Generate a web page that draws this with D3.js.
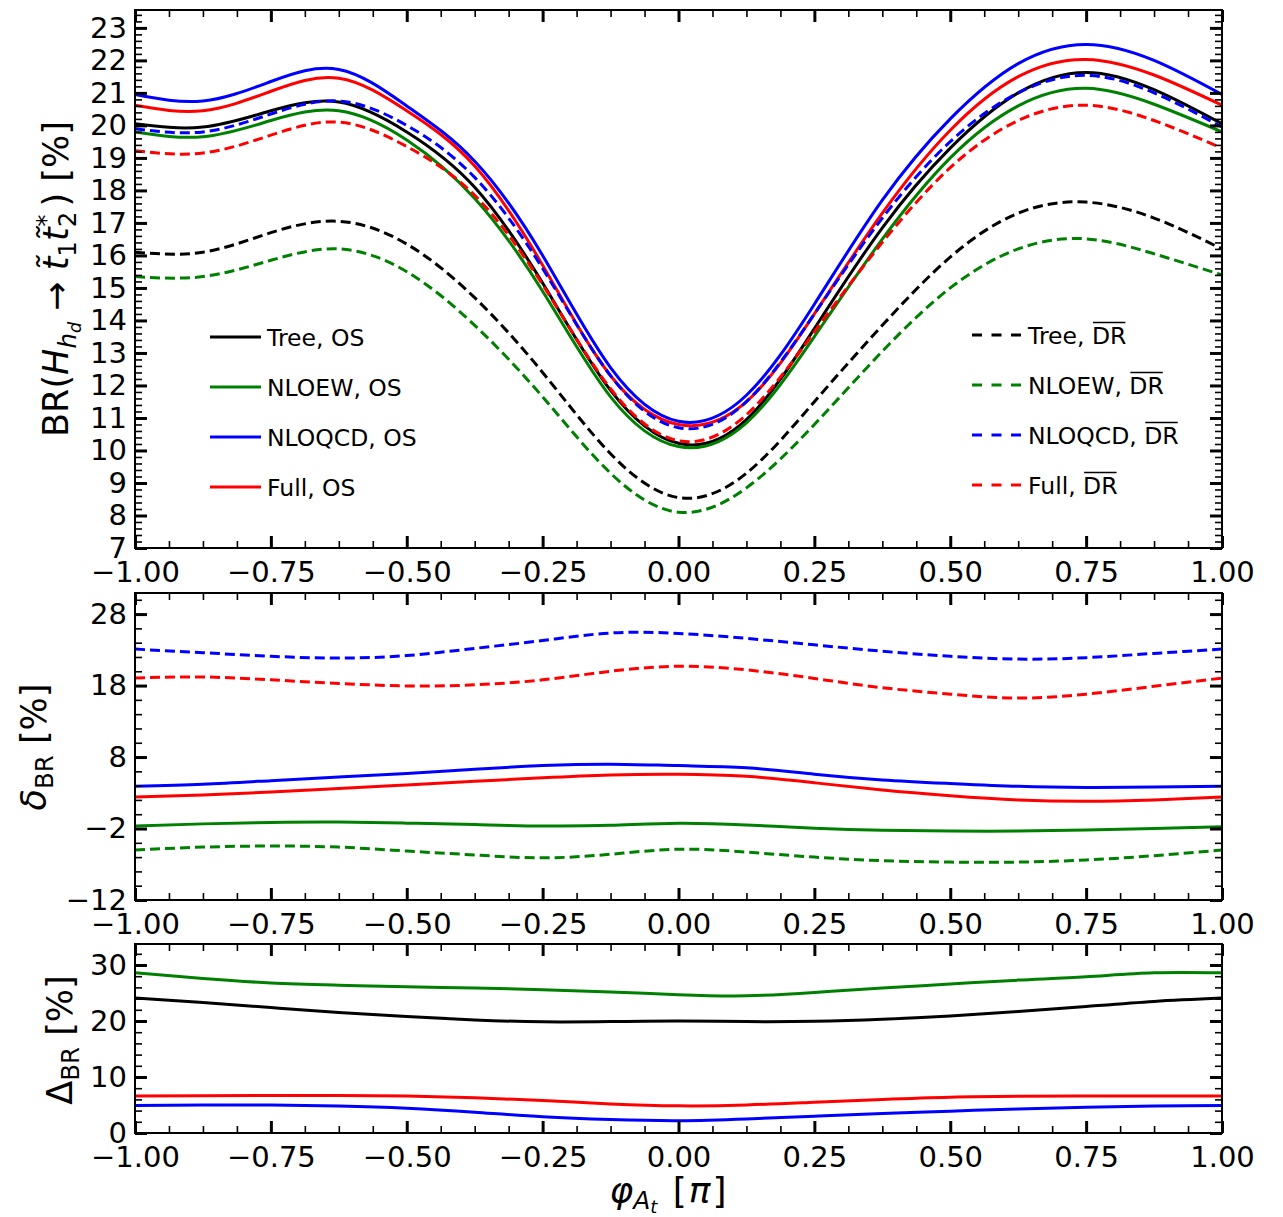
<!DOCTYPE html>
<html>
<head>
<meta charset="utf-8">
<script src="https://cdn.jsdelivr.net/npm/d3@7"></script>
<style>
body { margin: 0; background: #fff; }
text { font-family: "DejaVu Sans", sans-serif; fill: #000; }
</style>
</head>
<body>
<script>
// phase of A_t in units of pi
const phi = [-1, -0.875, -0.75, -0.625, -0.5, -0.375, -0.25, -0.125, 0, 0.125, 0.25, 0.375, 0.5, 0.625, 0.75, 0.875, 1];

// BR(H_hd -> st1 st2*) [%], OS scheme
const brTreeOS   = [20.05, 19.95, 20.45, 20.72, 19.8, 18.1, 15.15, 11.85, 10.22, 10.95, 13.75, 16.85, 19.3, 21.0, 21.63, 21.1, 20.05];
const brNloewOS  = [19.8, 19.65, 20.15, 20.45, 19.55, 17.75, 14.9, 11.65, 10.12, 10.85, 13.5, 16.5, 19.0, 20.6, 21.14, 20.65, 19.8];
const brNloqcdOS = [20.95, 20.75, 21.35, 21.72, 20.6, 18.9, 16.0, 12.55, 10.9, 11.7, 14.5, 17.7, 20.2, 21.9, 22.49, 22.0, 20.95];
const brFullOS   = [20.62, 20.45, 21.05, 21.45, 20.45, 18.75, 15.7, 12.3, 10.8, 11.5, 14.2, 17.3, 19.85, 21.5, 22.03, 21.55, 20.62];
// DR-bar scheme
const brTreeDR   = [16.1, 16.1, 16.7, 17.05, 16.35, 14.7, 12.4, 9.9, 8.55, 9.3, 11.5, 13.85, 15.95, 17.3, 17.64, 17.15, 16.2];
const brNloewDR  = [15.35, 15.35, 15.85, 16.2, 15.5, 13.85, 11.65, 9.3, 8.1, 8.85, 10.8, 13.05, 15.0, 16.2, 16.51, 16.05, 15.4];
const brNloqcdDR = [19.9, 19.8, 20.35, 20.75, 20.0, 18.4, 15.6, 12.3, 10.7, 11.5, 14.2, 17.15, 19.5, 21.0, 21.54, 21.0, 19.95];
const brFullDR   = [19.22, 19.15, 19.7, 20.1, 19.35, 17.85, 15.1, 11.9, 10.3, 11.1, 13.65, 16.4, 18.7, 20.15, 20.62, 20.15, 19.3];

// delta_BR [%]
const dNloewOS  = [-1.65, -1.35, -1.15, -1.1, -1.25, -1.45, -1.65, -1.55, -1.25, -1.5, -1.95, -2.25, -2.35, -2.35, -2.2, -2.0, -1.75];
const dNloqcdOS = [3.9, 4.2, 4.7, 5.2, 5.7, 6.3, 6.8, 7.0, 6.8, 6.5, 5.6, 4.8, 4.3, 3.9, 3.75, 3.8, 3.9];
const dFullOS   = [2.4, 2.7, 3.1, 3.6, 4.1, 4.6, 5.1, 5.5, 5.6, 5.3, 4.4, 3.4, 2.6, 2.0, 1.8, 2.0, 2.4];
const dNloewDR  = [-5.0, -4.6, -4.45, -4.6, -5.15, -5.7, -6.1, -5.6, -4.9, -5.3, -6.0, -6.5, -6.7, -6.7, -6.4, -5.8, -5.0];
const dNloqcdDR = [23.1, 22.6, 22.1, 21.85, 22.2, 23.2, 24.3, 25.35, 25.3, 24.6, 23.7, 22.8, 22.1, 21.7, 21.9, 22.5, 23.1];
const dFullDR   = [19.05, 19.2, 18.8, 18.3, 17.95, 18.1, 18.8, 20.0, 20.7, 20.2, 19.0, 17.7, 16.8, 16.25, 16.8, 17.9, 19.05];

// Delta_BR [%]
const DTree   = [24.1, 23.3, 22.4, 21.5, 20.8, 20.2, 19.85, 19.9, 20.0, 19.9, 19.95, 20.3, 20.9, 21.7, 22.6, 23.5, 24.1];
const DNloew  = [28.6, 27.6, 26.8, 26.4, 26.1, 25.9, 25.6, 25.2, 24.7, 24.5, 25.1, 25.9, 26.6, 27.3, 27.9, 28.6, 28.6];
const DNloqcd = [4.9, 5.0, 5.0, 4.8, 4.4, 3.7, 2.9, 2.4, 2.2, 2.5, 3.0, 3.5, 3.9, 4.3, 4.6, 4.8, 4.9];
const DFull   = [6.6, 6.65, 6.7, 6.7, 6.6, 6.3, 5.8, 5.2, 4.85, 5.0, 5.5, 6.0, 6.4, 6.55, 6.6, 6.6, 6.6];

const BLACK = '#000000', GREEN = '#008000', BLUE = '#0000ff', RED = '#ff0000';
const DASH = '10,5';

const svg = d3.select('body').append('svg')
	.attr('width', 1283)
	.attr('height', 1217);

const x = d3.scaleLinear().domain([-1, 1]).range([135, 1222]);
const xMajor = d3.range(-4, 5).map(i => i / 4);
const xMinor = d3.range(-16, 17).map(i => i / 16).filter(v => !xMajor.includes(v));

function panel(id, top, bottom, domain, yMajor, yMinor, series) {
	const y = d3.scaleLinear().domain(domain).range([bottom, top]);
	const g = svg.append('g').attr('id', id);

	g.append('clipPath').attr('id', 'clip-' + id)
		.append('rect')
		.attr('x', 135).attr('y', top)
		.attr('width', 1222 - 135).attr('height', bottom - top);

	const line = d3.line()
		.x((d, i) => x(phi[i]))
		.y(d => y(d))
		.curve(d3.curveNatural);

	g.append('g').attr('clip-path', `url(#clip-${id})`)
		.selectAll('path')
		.data(series)
		.enter()
		.append('path')
		.attr('d', s => line(s.values))
		.attr('fill', 'none')
		.attr('stroke', s => s.color)
		.attr('stroke-width', 3)
		.attr('stroke-dasharray', s => s.dashed ? DASH : null);

	const style = (sel, w) => {
		sel.select('.domain').remove();
		sel.selectAll('line').attr('stroke-width', w);
		sel.attr('font-size', 29).attr('font-family', null);
	};

	// major + minor ticks, all pointing inward
	g.append('g').attr('transform', 'translate(135,0)')
		.call(d3.axisLeft(y).tickValues(yMajor).tickSize(-12).tickPadding(8).tickFormat(d3.format('d')))
		.call(s => style(s, 3));
	g.append('g').attr('transform', 'translate(135,0)')
		.call(d3.axisLeft(y).tickValues(yMinor).tickSize(-7).tickFormat(''))
		.call(s => style(s, 1.6));
	g.append('g').attr('transform', 'translate(1222,0)')
		.call(d3.axisRight(y).tickValues(yMajor).tickSize(-12).tickFormat(''))
		.call(s => style(s, 3));
	g.append('g').attr('transform', 'translate(1222,0)')
		.call(d3.axisRight(y).tickValues(yMinor).tickSize(-7).tickFormat(''))
		.call(s => style(s, 1.6));

	g.append('g').attr('transform', `translate(0,${bottom})`)
		.call(d3.axisBottom(x).tickValues(xMajor).tickSize(-12).tickPadding(13).tickFormat(d3.format('.2f')))
		.call(s => style(s, 3));
	g.append('g').attr('transform', `translate(0,${bottom})`)
		.call(d3.axisBottom(x).tickValues(xMinor).tickSize(-7).tickFormat(''))
		.call(s => style(s, 1.6));
	g.append('g').attr('transform', `translate(0,${top})`)
		.call(d3.axisTop(x).tickValues(xMajor).tickSize(-12).tickFormat(''))
		.call(s => style(s, 3));
	g.append('g').attr('transform', `translate(0,${top})`)
		.call(d3.axisTop(x).tickValues(xMinor).tickSize(-7).tickFormat(''))
		.call(s => style(s, 1.6));

	g.append('rect')
		.attr('x', 135).attr('y', top)
		.attr('width', 1222 - 135).attr('height', bottom - top)
		.attr('fill', 'none')
		.attr('stroke', '#000')
		.attr('stroke-width', 2);

	return g;
}

panel('br', 10, 548, [7, 23.55],
	d3.range(7, 24),
	d3.range(35, 118).map(i => i / 5).filter(v => !Number.isInteger(v)),
	[
		{ values: brTreeDR, color: BLACK, dashed: true },
		{ values: brNloewDR, color: GREEN, dashed: true },
		{ values: brTreeOS, color: BLACK },
		{ values: brNloewOS, color: GREEN },
		{ values: brNloqcdOS, color: BLUE },
		{ values: brFullOS, color: RED },
		{ values: brNloqcdDR, color: BLUE, dashed: true },
		{ values: brFullDR, color: RED, dashed: true }
	]);

panel('delta', 593, 900, [-12, 30.95],
	[-12, -2, 8, 18, 28],
	d3.range(-12, 31, 2).filter(v => (v + 12) % 10 !== 0),
	[
		{ values: dNloewOS, color: GREEN },
		{ values: dNloqcdOS, color: BLUE },
		{ values: dFullOS, color: RED },
		{ values: dNloewDR, color: GREEN, dashed: true },
		{ values: dNloqcdDR, color: BLUE, dashed: true },
		{ values: dFullDR, color: RED, dashed: true }
	]);

panel('Delta', 944, 1133, [0, 33.75],
	[0, 10, 20, 30],
	d3.range(0, 34, 2).filter(v => v % 10 !== 0),
	[
		{ values: DTree, color: BLACK },
		{ values: DNloew, color: GREEN },
		{ values: DNloqcd, color: BLUE },
		{ values: DFull, color: RED }
	]);

// legends
const legendOS = [
	{ name: 'Tree, OS', color: BLACK },
	{ name: 'NLOEW, OS', color: GREEN },
	{ name: 'NLOQCD, OS', color: BLUE },
	{ name: 'Full, OS', color: RED }
];
const legendDR = [
	{ name: 'Tree, ', color: BLACK },
	{ name: 'NLOEW, ', color: GREEN },
	{ name: 'NLOQCD, ', color: BLUE },
	{ name: 'Full, ', color: RED }
];

let legLeft = svg.append('g').selectAll('g')
	.data(legendOS)
	.enter()
	.append('g')
	.attr('transform', (d, i) => `translate(210,${337 + i * 50})`);
legLeft.append('line')
	.attr('x1', 0).attr('x2', 51)
	.attr('stroke', d => d.color)
	.attr('stroke-width', 3);
legLeft.append('text')
	.attr('x', 57).attr('y', 8.5)
	.attr('font-size', 23.5)
	.text(d => d.name);

let legRight = svg.append('g').selectAll('g')
	.data(legendDR)
	.enter()
	.append('g')
	.attr('transform', (d, i) => `translate(972,${335 + i * 50})`);
legRight.append('line')
	.attr('x1', 0).attr('x2', 49)
	.attr('stroke', d => d.color)
	.attr('stroke-width', 3)
	.attr('stroke-dasharray', '10,9.5');
legRight.each(function (d) {
	const item = d3.select(this);
	const t = item.append('text')
		.attr('x', 56).attr('y', 8.5)
		.attr('font-size', 23.5)
		.text(d.name + 'DR');
	const node = t.node();
	const start = node.getSubStringLength(0, d.name.length);
	const w = node.getSubStringLength(d.name.length, 2);
	item.append('line')
		.attr('x1', 56 + start + 1).attr('x2', 56 + start + w - 1)
		.attr('y1', -12.5).attr('y2', -12.5)
		.attr('stroke', '#000')
		.attr('stroke-width', 1.6);
});

// axis titles
const F = 35;
let yl = svg.append('text')
	.attr('transform', 'translate(68,279) rotate(-90)')
	.attr('text-anchor', 'middle')
	.attr('font-size', F);
yl.append('tspan').text('BR(');
yl.append('tspan').attr('font-style', 'italic').text('H');
yl.append('tspan').attr('font-style', 'italic').attr('font-size', F * 0.7).attr('dy', 8).text('h');
yl.append('tspan').attr('font-style', 'italic').attr('font-size', F * 0.5).attr('dy', 5).text('d');
yl.append('tspan').attr('dy', -13).text(' \u2192 ');
yl.append('tspan').attr('font-style', 'italic').text('t\u0303');
yl.append('tspan').attr('font-size', F * 0.7).attr('dy', 8).text('1');
yl.append('tspan').attr('font-style', 'italic').attr('dy', -8).text('t\u0303');
yl.append('tspan').attr('font-size', F * 0.7).attr('dy', 8).text('2');
yl.append('tspan').attr('font-size', F * 0.7).attr('dy', -22).attr('dx', -15).text('*');
yl.append('tspan').attr('dy', 14).attr('dx', 8).text(') [%]');

let dl = svg.append('text')
	.attr('transform', 'translate(46,747) rotate(-90)')
	.attr('text-anchor', 'middle')
	.attr('font-size', F);
dl.append('tspan').attr('font-style', 'italic').text('\u03b4');
dl.append('tspan').attr('font-size', F * 0.7).attr('dy', 7).text('BR');
dl.append('tspan').attr('dy', -7).text(' [%]');

let Dl = svg.append('text')
	.attr('transform', 'translate(72,1040) rotate(-90)')
	.attr('text-anchor', 'middle')
	.attr('font-size', F);
Dl.append('tspan').text('\u0394');
Dl.append('tspan').attr('font-size', F * 0.7).attr('dy', 7).text('BR');
Dl.append('tspan').attr('dy', -7).text(' [%]');

let xl = svg.append('text')
	.attr('x', 668).attr('y', 1203)
	.attr('text-anchor', 'middle')
	.attr('font-size', 36);
xl.append('tspan').attr('font-style', 'italic').text('\u03c6');
xl.append('tspan').attr('font-style', 'italic').attr('font-size', 25).attr('dy', 6).text('A');
xl.append('tspan').attr('font-style', 'italic').attr('font-size', 18).attr('dy', 4).text('t');
xl.append('tspan').attr('dy', -10).attr('dx', 4).text(' [');
xl.append('tspan').attr('font-style', 'italic').attr('dx', 2).text('\u03c0');
xl.append('tspan').attr('dx', 2).text(']');
</script>
</body>
</html>
